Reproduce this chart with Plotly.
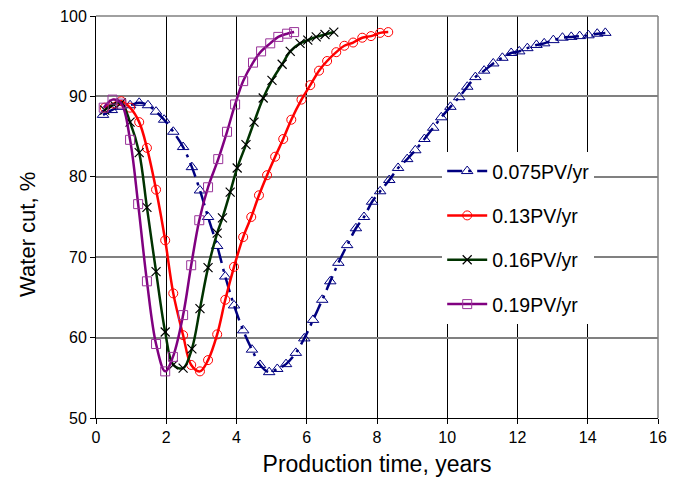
import plotly.graph_objects as go

# 0.075 PV/yr
t_075 = [0.2, 0.45, 0.7, 0.97, 1.23, 1.48, 1.71, 1.94, 2.2, 2.48, 2.73, 2.96, 3.19, 3.45, 3.68, 3.93,
         4.19, 4.44, 4.67, 4.93, 5.16, 5.41, 5.69, 5.93, 6.18, 6.44, 6.67, 6.9, 7.15, 7.4, 7.63, 7.86,
         8.09, 8.35, 8.6, 8.86, 9.09, 9.35, 9.6, 9.83, 10.09, 10.34, 10.57, 10.8, 11.05, 11.31, 11.57,
         11.82, 12.05, 12.28, 12.54, 12.76, 13.02, 13.28, 13.53, 13.77, 14.02, 14.27, 14.5]
wc_075 = [87.7, 88.3, 88.7, 88.9, 89.2, 88.9, 88.1, 87.1, 85.6, 83.7, 81.2, 78.3, 75.0, 71.4, 67.6, 64.0,
          60.9, 58.5, 56.6, 55.7, 56.1, 56.7, 58.1, 59.9, 62.2, 64.7, 67.0, 69.3, 71.5, 73.6, 75.0, 76.9,
          78.2, 79.6, 81.1, 82.2, 83.3, 84.7, 86.1, 87.4, 88.7, 89.9, 91.2, 92.4, 93.2, 94.1, 94.8,
          95.4, 95.6, 96.0, 96.4, 96.6, 97.0, 97.3, 97.4, 97.5, 97.6, 97.8, 97.9]

# 0.13 PV/yr
t_013 = [0.25, 0.5, 0.72, 0.97, 1.23, 1.45, 1.71, 1.97, 2.2, 2.48, 2.71, 2.96, 3.19, 3.45, 3.68, 3.93,
         4.19, 4.42, 4.64, 4.87, 5.1, 5.33, 5.56, 5.85, 6.1, 6.35, 6.58, 6.84, 7.07, 7.32, 7.58, 7.83,
         8.09, 8.32]
wc_013 = [88.6, 89.1, 89.4, 88.6, 86.8, 83.6, 78.4, 72.1, 65.5, 60.3, 56.6, 55.8, 57.2, 60.4, 64.7, 68.8,
          72.5, 75.0, 77.7, 80.2, 82.5, 84.7, 87.1, 89.6, 91.4, 93.2, 94.4, 95.5, 96.3, 96.7, 97.3, 97.5,
          97.9, 98.0]

# 0.16 PV/yr
t_016 = [0.25, 0.5, 0.72, 0.97, 1.23, 1.45, 1.71, 1.97, 2.2, 2.48, 2.73, 2.96, 3.19, 3.45, 3.6, 3.82,
         4.02, 4.27, 4.5, 4.76, 5.01, 5.3, 5.53, 5.81, 6.03, 6.27, 6.52, 6.77]
wc_016 = [88.3, 89.0, 89.2, 86.8, 83.0, 76.2, 68.2, 60.7, 56.6, 56.2, 58.6, 63.6, 68.7, 73.0, 74.9, 78.1,
          81.1, 84.0, 86.8, 89.8, 92.0, 94.0, 95.6, 96.6, 97.0, 97.4, 97.7, 98.0]

# 0.19 PV/yr
t_019 = [0.22, 0.47, 0.72, 0.97, 1.2, 1.45, 1.71, 1.97, 2.19, 2.48, 2.71, 2.94, 3.19, 3.48, 3.73, 3.96,
         4.19, 4.47, 4.70, 4.96, 5.19, 5.44, 5.64]
wc_019 = [88.6, 89.6, 89.1, 84.6, 76.6, 67.0, 59.2, 55.8, 57.6, 62.8, 69.0, 74.6, 78.7, 82.2, 85.6, 89.0,
          91.9, 94.2, 95.6, 96.6, 97.4, 97.8, 98.0]

names = ["0.075PV/yr", "0.13PV/yr", "0.16PV/yr", "0.19PV/yr"]
x_ticks = [0, 2, 4, 6, 8, 10, 12, 14, 16]
y_ticks = [50, 60, 70, 80, 90, 100]
x_title = "Production time, years"
y_title = "Water cut, %"

FONT = "Liberation Sans, Arial, sans-serif"

fig = go.Figure()
fig.add_trace(go.Scatter(
    x=t_075, y=wc_075, name=names[0], mode="lines+markers", legendgroup="a",
    line=dict(color="#000080", width=2.5, dash="longdashdot", shape="spline"),
    marker=dict(symbol="triangle-up-open", size=10, color="#000080", line=dict(width=1))))
fig.add_trace(go.Scatter(
    x=t_013, y=wc_013, name=names[1], mode="lines+markers", legendgroup="b",
    line=dict(color="#ff0000", width=2.5, shape="spline"),
    marker=dict(symbol="circle-open", size=9, color="#ff0000", line=dict(width=1))))
fig.add_trace(go.Scatter(
    x=t_016, y=wc_016, name=names[2], mode="lines+markers", legendgroup="c",
    line=dict(color="#003300", width=2.5, shape="spline"),
    marker=dict(symbol="x-thin-open", size=9, color="#000000", line=dict(width=1.2, color="#000000"))))
fig.add_trace(go.Scatter(
    x=t_019, y=wc_019, name=names[3], mode="lines+markers", legendgroup="d",
    line=dict(color="#800080", width=2.5, shape="spline"),
    marker=dict(symbol="square-open", size=9, color="#993399", line=dict(width=1))))

fig.update_layout(
    width=682, height=478,
    margin=dict(l=88, r=32, t=8, b=68, autoexpand=False),
    paper_bgcolor="white", plot_bgcolor="white",
    font=dict(family=FONT, color="black", size=16),
    showlegend=True,
    legend=dict(x=0.616, y=0.662, xanchor="left", yanchor="top",
                bgcolor="white", borderwidth=0, font=dict(size=19.5, family=FONT),
                traceorder="grouped", tracegroupgap=16, itemwidth=40),
    xaxis=dict(range=[0, 16], tickvals=x_ticks, ticktext=[str(v) for v in x_ticks],
               showgrid=True, gridcolor="black", gridwidth=1,
               showline=True, linecolor="black", linewidth=1, mirror=False,
               ticks="outside", ticklen=5, tickcolor="black", zeroline=False,
               tickfont=dict(size=16), ticklabeloverflow="allow",
               title=dict(text=x_title, font=dict(size=23), standoff=10)),
    yaxis=dict(range=[50, 100], tickvals=y_ticks, ticktext=[str(v) for v in y_ticks],
               showgrid=True, gridcolor="#808080", gridwidth=1.5,
               showline=True, linecolor="black", linewidth=1,
               ticks="outside", ticklen=5, tickcolor="black", zeroline=False,
               tickfont=dict(size=16), ticklabeloverflow="allow"),
    annotations=[dict(text=y_title, xref="paper", yref="paper", x=-0.121, y=0.458,
                      textangle=-90, showarrow=False, font=dict(size=22),
                      xanchor="center", yanchor="middle")],
    shapes=[
        dict(type="line", xref="paper", yref="paper", x0=0, x1=1, y0=1, y1=1,
             line=dict(color="#808080", width=1.5)),
        dict(type="line", xref="paper", yref="paper", x0=1, x1=1, y0=0, y1=1,
             line=dict(color="#808080", width=1.5)),
    ],
)

fig.write_html("out.html")
